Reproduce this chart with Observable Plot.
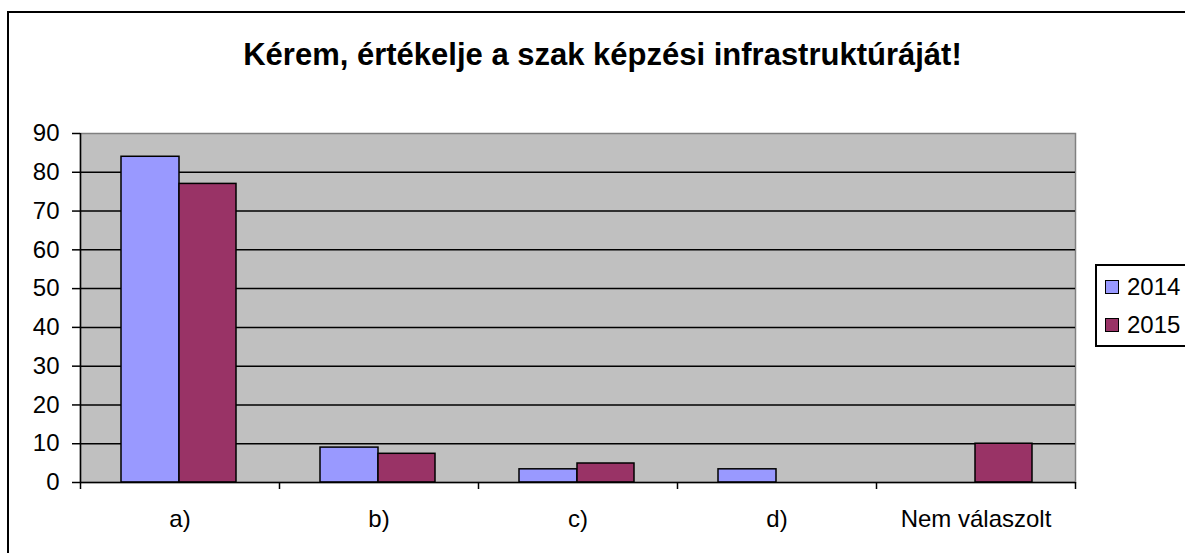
<!DOCTYPE html>
<html>
<head>
<meta charset="utf-8">
<script src="https://cdn.jsdelivr.net/npm/d3@7"></script>
<script src="https://cdn.jsdelivr.net/npm/@observablehq/plot@0.6"></script>
<style>
  html, body { margin: 0; padding: 0; background: #fff; overflow: hidden; width: 1185px; height: 553px; }
  #wrap { position: relative; width: 1185px; height: 553px; font-family: "Liberation Sans", Arial, sans-serif; }
  #border { position: absolute; left: 7px; top: 11px; width: 1300px; height: 700px; border: 2px solid #000; box-sizing: border-box; }
  #title { position: absolute; left: 0; top: 37px; width: 1205px; text-align: center; font-weight: bold; font-size: 31px; color: #000; }
  #chart { position: absolute; left: 0; top: 0; }
  #legend { position: absolute; left: 1095px; top: 264px; width: 120px; height: 83px; border: 2px solid #000; box-sizing: border-box; background: #fff; font-size: 24px; }
  .li { position: absolute; left: 8px; display: flex; align-items: center; }
  .sw { width: 12px; height: 12px; border: 1.5px solid #000; margin-right: 8px; }
</style>
</head>
<body>
<div id="wrap">
  <div id="border"></div>
  <div id="title">Kérem, értékelje a szak képzési infrastruktúráját!</div>
  <div id="chart"></div>
  <div id="legend"></div>
</div>
<script>
const categories = ["a)", "b)", "c)", "d)", "Nem válaszolt"];
const series = ["2014", "2015"];
const values2014 = [84, 9, 3.4, 3.4, 0];
const values2015 = [77, 7.4, 4.9, 0, 10];
const colors = ["#9999FF", "#993366"];
const yTicks = [0, 10, 20, 30, 40, 50, 60, 70, 80, 90];

const rows = categories.map((c, i) => ({cat: c, v2014: values2014[i], v2015: values2015[i]}));

const plot = Plot.plot({
  width: 1185,
  height: 553,
  marginTop: 133,
  marginBottom: 71,
  marginLeft: 80,
  marginRight: 110,
  style: {fontFamily: "Liberation Sans, Arial, sans-serif", background: "transparent", overflow: "visible"},
  x: {domain: categories, paddingInner: 0, paddingOuter: 0, axis: null},
  y: {domain: [0, 90], axis: null},
  marks: [
    Plot.frame({fill: "#C0C0C0", stroke: "#808080", strokeWidth: 1.5}),
    Plot.ruleY(yTicks.filter(d => d > 0 && d < 90), {stroke: "#000", strokeWidth: 1.5}),
    Plot.barY(rows.filter(d => d.v2014 > 0), {x: "cat", y: "v2014", insetLeft: 41, insetRight: 100, fill: colors[0], stroke: "#000", strokeWidth: 1.5}),
    Plot.barY(rows.filter(d => d.v2015 > 0), {x: "cat", y: "v2015", insetLeft: 99, insetRight: 43, fill: colors[1], stroke: "#000", strokeWidth: 1.5}),
    Plot.ruleY([0], {stroke: "#000", strokeWidth: 1.5}),
    Plot.ruleX([categories[0]], {dx: -99.5, stroke: "#000", strokeWidth: 1.5}),
    Plot.axisY({ticks: yTicks, tickSize: 8, tickPadding: 13, fontSize: 24, strokeWidth: 1.5, color: "#000", label: null}),
    Plot.axisX({tickSize: 0, tickPadding: 27, fontSize: 24, color: "#000", label: null}),
    Plot.axisX({tickSize: 7, dx: -99.5, text: null, strokeWidth: 1.5, color: "#000", label: null}),
    Plot.axisX([categories[categories.length - 1]], {tickSize: 7, dx: 99.5, text: null, strokeWidth: 1.5, color: "#000", label: null})
  ]
});
document.getElementById("chart").appendChild(plot);

const legend = document.getElementById("legend");
series.forEach((s, i) => {
  const item = document.createElement("div");
  item.className = "li";
  item.style.top = (i === 0 ? 7 : 45) + "px";
  const sw = document.createElement("div");
  sw.className = "sw";
  sw.style.background = colors[i];
  item.appendChild(sw);
  const t = document.createElement("span");
  t.textContent = s;
  item.appendChild(t);
  legend.appendChild(item);
});
</script>
</body>
</html>
